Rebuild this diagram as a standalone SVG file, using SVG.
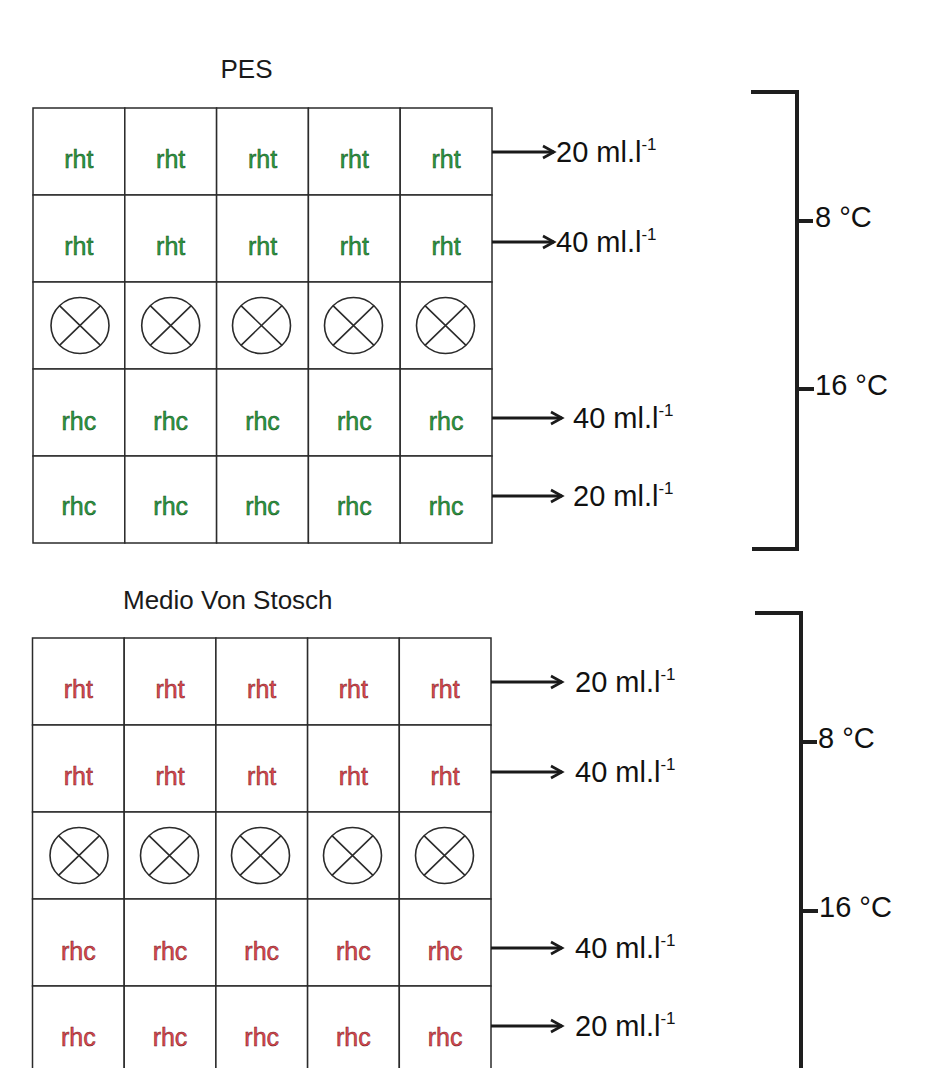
<svg xmlns="http://www.w3.org/2000/svg" width="929" height="1068" viewBox="0 0 929 1068">
  <style>
    text { font-family: "Liberation Sans", Arial, sans-serif; }
    .cell { fill: #ffffff; stroke: #2b2b2b; stroke-width: 1.5; }
    .lbl { font-size: 25px; text-anchor: middle; stroke-width: 0.5; }
    .g { fill: #2a9a40; stroke: #1c4f25; }
    .r { fill: #e0484f; stroke: #6e2326; }
    .mark { fill: none; stroke: #2b2b2b; stroke-width: 1.6; }
    .title { font-size: 26px; fill: #1a1a1a; }
    .conc { font-size: 29px; fill: #111111; }
    .sup { font-size: 17px; }
    .temp { font-size: 29px; fill: #111111; }
    .arrow { fill: none; stroke: #1a1a1a; stroke-width: 3; marker-end: url(#chev); }
    .bracket { fill: none; stroke: #1e1e1e; stroke-width: 4; }
  </style>
  <defs>
    <marker id="chev" markerUnits="userSpaceOnUse" markerWidth="16" markerHeight="16" refX="13" refY="8" orient="auto">
      <path d="M2,2 L13,8 L2,14" fill="none" stroke="#1a1a1a" stroke-width="2.6"/>
    </marker>
    <g id="blocked">
      <ellipse cx="0" cy="0" rx="29" ry="28" class="mark"/>
      <path d="M-20.5,-19.8 L20.5,19.8 M20.5,-19.8 L-20.5,19.8" class="mark"/>
    </g>
  </defs>
  <rect width="929" height="1068" fill="#ffffff"/>

  <!-- PES plate -->
  <text id="title-pes" class="title" x="246.5" y="78" text-anchor="middle" font-size="27">PES</text>
  <g id="pes-grid">
    <g id="pes-r1c1"><rect class="cell" x="33" y="108" width="91.8" height="87"/><text class="lbl g" x="78.9" y="168">rht</text></g>
    <g id="pes-r1c2"><rect class="cell" x="124.8" y="108" width="91.8" height="87"/><text class="lbl g" x="170.7" y="168">rht</text></g>
    <g id="pes-r1c3"><rect class="cell" x="216.6" y="108" width="91.8" height="87"/><text class="lbl g" x="262.5" y="168">rht</text></g>
    <g id="pes-r1c4"><rect class="cell" x="308.4" y="108" width="91.8" height="87"/><text class="lbl g" x="354.3" y="168">rht</text></g>
    <g id="pes-r1c5"><rect class="cell" x="400.2" y="108" width="91.8" height="87"/><text class="lbl g" x="446.1" y="168">rht</text></g>

    <g id="pes-r2c1"><rect class="cell" x="33" y="195" width="91.8" height="87"/><text class="lbl g" x="78.9" y="255">rht</text></g>
    <g id="pes-r2c2"><rect class="cell" x="124.8" y="195" width="91.8" height="87"/><text class="lbl g" x="170.7" y="255">rht</text></g>
    <g id="pes-r2c3"><rect class="cell" x="216.6" y="195" width="91.8" height="87"/><text class="lbl g" x="262.5" y="255">rht</text></g>
    <g id="pes-r2c4"><rect class="cell" x="308.4" y="195" width="91.8" height="87"/><text class="lbl g" x="354.3" y="255">rht</text></g>
    <g id="pes-r2c5"><rect class="cell" x="400.2" y="195" width="91.8" height="87"/><text class="lbl g" x="446.1" y="255">rht</text></g>

    <g id="pes-r3c1"><rect class="cell" x="33" y="282" width="91.8" height="87"/><use href="#blocked" x="80" y="325.5"/></g>
    <g id="pes-r3c2"><rect class="cell" x="124.8" y="282" width="91.8" height="87"/><use href="#blocked" x="170.7" y="325.5"/></g>
    <g id="pes-r3c3"><rect class="cell" x="216.6" y="282" width="91.8" height="87"/><use href="#blocked" x="261.5" y="325.5"/></g>
    <g id="pes-r3c4"><rect class="cell" x="308.4" y="282" width="91.8" height="87"/><use href="#blocked" x="353.5" y="325.5"/></g>
    <g id="pes-r3c5"><rect class="cell" x="400.2" y="282" width="91.8" height="87"/><use href="#blocked" x="445.5" y="325.5"/></g>

    <g id="pes-r4c1"><rect class="cell" x="33" y="369" width="91.8" height="87"/><text class="lbl g" x="78.9" y="430">rhc</text></g>
    <g id="pes-r4c2"><rect class="cell" x="124.8" y="369" width="91.8" height="87"/><text class="lbl g" x="170.7" y="430">rhc</text></g>
    <g id="pes-r4c3"><rect class="cell" x="216.6" y="369" width="91.8" height="87"/><text class="lbl g" x="262.5" y="430">rhc</text></g>
    <g id="pes-r4c4"><rect class="cell" x="308.4" y="369" width="91.8" height="87"/><text class="lbl g" x="354.3" y="430">rhc</text></g>
    <g id="pes-r4c5"><rect class="cell" x="400.2" y="369" width="91.8" height="87"/><text class="lbl g" x="446.1" y="430">rhc</text></g>

    <g id="pes-r5c1"><rect class="cell" x="33" y="456" width="91.8" height="87"/><text class="lbl g" x="78.9" y="515">rhc</text></g>
    <g id="pes-r5c2"><rect class="cell" x="124.8" y="456" width="91.8" height="87"/><text class="lbl g" x="170.7" y="515">rhc</text></g>
    <g id="pes-r5c3"><rect class="cell" x="216.6" y="456" width="91.8" height="87"/><text class="lbl g" x="262.5" y="515">rhc</text></g>
    <g id="pes-r5c4"><rect class="cell" x="308.4" y="456" width="91.8" height="87"/><text class="lbl g" x="354.3" y="515">rhc</text></g>
    <g id="pes-r5c5"><rect class="cell" x="400.2" y="456" width="91.8" height="87"/><text class="lbl g" x="446.1" y="515">rhc</text></g>
  </g>

  <!-- Medio Von Stosch plate -->
  <text id="title-mvs" class="title" x="123" y="609">Medio Von Stosch</text>
  <g id="mvs-grid">
    <g id="mvs-r1c1"><rect class="cell" x="32.5" y="638" width="91.7" height="87"/><text class="lbl r" x="78.3" y="698">rht</text></g>
    <g id="mvs-r1c2"><rect class="cell" x="124.2" y="638" width="91.7" height="87"/><text class="lbl r" x="170" y="698">rht</text></g>
    <g id="mvs-r1c3"><rect class="cell" x="215.9" y="638" width="91.7" height="87"/><text class="lbl r" x="261.7" y="698">rht</text></g>
    <g id="mvs-r1c4"><rect class="cell" x="307.6" y="638" width="91.7" height="87"/><text class="lbl r" x="353.4" y="698">rht</text></g>
    <g id="mvs-r1c5"><rect class="cell" x="399.3" y="638" width="91.7" height="87"/><text class="lbl r" x="445.1" y="698">rht</text></g>

    <g id="mvs-r2c1"><rect class="cell" x="32.5" y="725" width="91.7" height="87"/><text class="lbl r" x="78.3" y="785">rht</text></g>
    <g id="mvs-r2c2"><rect class="cell" x="124.2" y="725" width="91.7" height="87"/><text class="lbl r" x="170" y="785">rht</text></g>
    <g id="mvs-r2c3"><rect class="cell" x="215.9" y="725" width="91.7" height="87"/><text class="lbl r" x="261.7" y="785">rht</text></g>
    <g id="mvs-r2c4"><rect class="cell" x="307.6" y="725" width="91.7" height="87"/><text class="lbl r" x="353.4" y="785">rht</text></g>
    <g id="mvs-r2c5"><rect class="cell" x="399.3" y="725" width="91.7" height="87"/><text class="lbl r" x="445.1" y="785">rht</text></g>

    <g id="mvs-r3c1"><rect class="cell" x="32.5" y="812" width="91.7" height="87"/><use href="#blocked" x="79" y="855.5"/></g>
    <g id="mvs-r3c2"><rect class="cell" x="124.2" y="812" width="91.7" height="87"/><use href="#blocked" x="169.5" y="855.5"/></g>
    <g id="mvs-r3c3"><rect class="cell" x="215.9" y="812" width="91.7" height="87"/><use href="#blocked" x="260.5" y="855.5"/></g>
    <g id="mvs-r3c4"><rect class="cell" x="307.6" y="812" width="91.7" height="87"/><use href="#blocked" x="352.5" y="855.5"/></g>
    <g id="mvs-r3c5"><rect class="cell" x="399.3" y="812" width="91.7" height="87"/><use href="#blocked" x="444.5" y="855.5"/></g>

    <g id="mvs-r4c1"><rect class="cell" x="32.5" y="899" width="91.7" height="87"/><text class="lbl r" x="78.3" y="960">rhc</text></g>
    <g id="mvs-r4c2"><rect class="cell" x="124.2" y="899" width="91.7" height="87"/><text class="lbl r" x="170" y="960">rhc</text></g>
    <g id="mvs-r4c3"><rect class="cell" x="215.9" y="899" width="91.7" height="87"/><text class="lbl r" x="261.7" y="960">rhc</text></g>
    <g id="mvs-r4c4"><rect class="cell" x="307.6" y="899" width="91.7" height="87"/><text class="lbl r" x="353.4" y="960">rhc</text></g>
    <g id="mvs-r4c5"><rect class="cell" x="399.3" y="899" width="91.7" height="87"/><text class="lbl r" x="445.1" y="960">rhc</text></g>

    <g id="mvs-r5c1"><rect class="cell" x="32.5" y="986" width="91.7" height="87"/><text class="lbl r" x="78.3" y="1046">rhc</text></g>
    <g id="mvs-r5c2"><rect class="cell" x="124.2" y="986" width="91.7" height="87"/><text class="lbl r" x="170" y="1046">rhc</text></g>
    <g id="mvs-r5c3"><rect class="cell" x="215.9" y="986" width="91.7" height="87"/><text class="lbl r" x="261.7" y="1046">rhc</text></g>
    <g id="mvs-r5c4"><rect class="cell" x="307.6" y="986" width="91.7" height="87"/><text class="lbl r" x="353.4" y="1046">rhc</text></g>
    <g id="mvs-r5c5"><rect class="cell" x="399.3" y="986" width="91.7" height="87"/><text class="lbl r" x="445.1" y="1046">rhc</text></g>
  </g>

  <!-- concentration arrows -->
  <g id="connectors">
    <path class="arrow" d="M492,152 H554"/>
    <path class="arrow" d="M492,242 H554"/>
    <path class="arrow" d="M492,418 H562"/>
    <path class="arrow" d="M492,496 H562"/>
    <path class="arrow" d="M491,682 H562"/>
    <path class="arrow" d="M491,772 H562"/>
    <path class="arrow" d="M491,948 H562"/>
    <path class="arrow" d="M491,1026 H562"/>
  </g>

  <!-- concentration labels -->
  <g id="conc-labels">
    <text class="conc" x="556" y="162">20 ml.l<tspan class="sup" dy="-12">-1</tspan></text>
    <text class="conc" x="556" y="252">40 ml.l<tspan class="sup" dy="-12">-1</tspan></text>
    <text class="conc" x="573" y="428">40 ml.l<tspan class="sup" dy="-12">-1</tspan></text>
    <text class="conc" x="573" y="506">20 ml.l<tspan class="sup" dy="-12">-1</tspan></text>
    <text class="conc" x="575" y="692">20 ml.l<tspan class="sup" dy="-12">-1</tspan></text>
    <text class="conc" x="575" y="782">40 ml.l<tspan class="sup" dy="-12">-1</tspan></text>
    <text class="conc" x="575" y="958">40 ml.l<tspan class="sup" dy="-12">-1</tspan></text>
    <text class="conc" x="575" y="1036">20 ml.l<tspan class="sup" dy="-12">-1</tspan></text>
  </g>

  <!-- temperature brackets -->
  <g id="bracket-pes">
    <path class="bracket" d="M751,92 H797 V549 H752"/>
    <path class="bracket" d="M797,221 H813 M797,389 H814"/>
    <text class="temp" x="815" y="227">8 °C</text>
    <text class="temp" x="815" y="395">16 °C</text>
  </g>
  <g id="bracket-mvs">
    <path class="bracket" d="M755,613 H801 V1072"/>
    <path class="bracket" d="M801,742 H817 M801,911 H818"/>
    <text class="temp" x="818" y="748">8 °C</text>
    <text class="temp" x="819" y="917">16 °C</text>
  </g>
</svg>
